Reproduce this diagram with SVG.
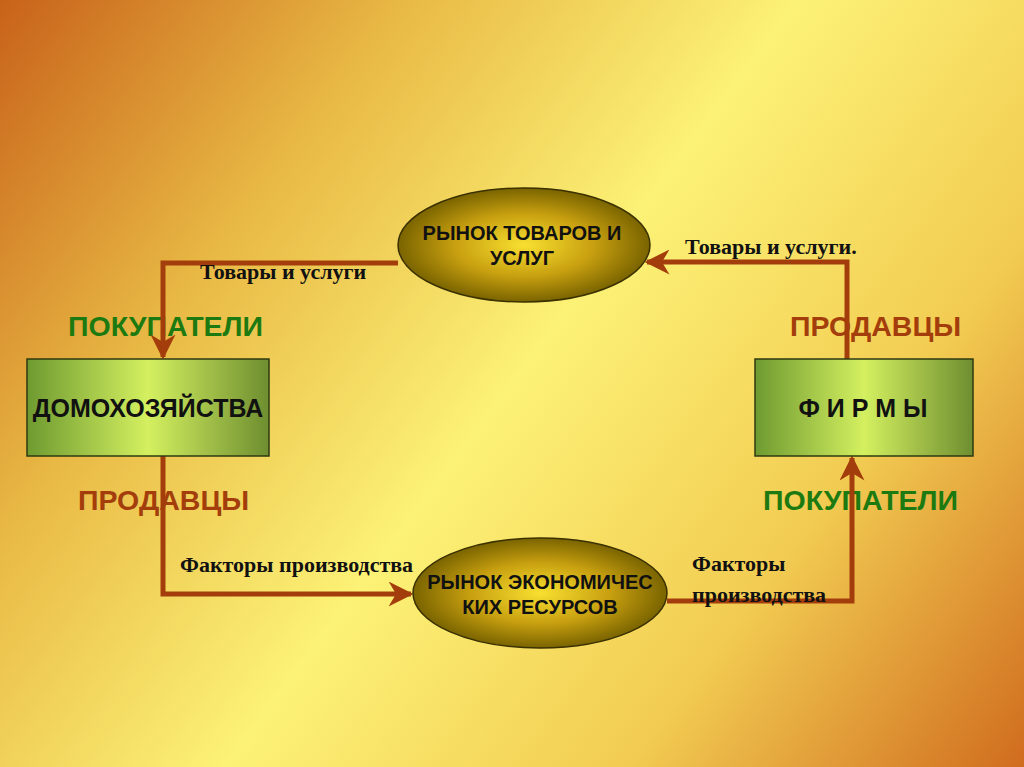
<svg xmlns="http://www.w3.org/2000/svg" width="1024" height="767" viewBox="0 0 1024 767">
<defs>
<linearGradient id="bg" x1="0" y1="0" x2="1024" y2="767" gradientUnits="userSpaceOnUse">
<stop offset="0" stop-color="#c8621a"/>
<stop offset="0.25" stop-color="#e8b844"/>
<stop offset="0.5" stop-color="#fcf276"/>
<stop offset="0.75" stop-color="#f2cc52"/>
<stop offset="1" stop-color="#d06c1e"/>
</linearGradient>
<radialGradient id="ell" cx="0.5" cy="0.5" r="0.5">
<stop offset="0" stop-color="#f8e030"/>
<stop offset="0.55" stop-color="#c8a010"/>
<stop offset="1" stop-color="#7a6400"/>
</radialGradient>
<linearGradient id="box" x1="0" y1="0" x2="1" y2="0">
<stop offset="0" stop-color="#6e9a30"/>
<stop offset="0.5" stop-color="#d4f060"/>
<stop offset="1" stop-color="#6e8e30"/>
</linearGradient>
<marker id="ah" viewBox="0 0 10 10" refX="9" refY="5" markerWidth="5" markerHeight="5" orient="auto" markerUnits="strokeWidth">
<path d="M0,0 L10,5 L0,10 L3,5 Z" fill="#a33e0c"/>
</marker>
<style>
.conn{fill:none;stroke:#a33e0c;stroke-width:5;stroke-linejoin:miter}
.ser{font-family:"Liberation Serif",serif;font-weight:bold;font-size:22px;fill:#111}
.big{font-family:"Liberation Sans",Arial,sans-serif;font-weight:bold;font-size:28.5px}
.g{fill:#1d7a10}
.r{fill:#a33e0c}
.nt{font-family:"Liberation Sans",Arial,sans-serif;font-weight:bold;fill:#111;text-anchor:middle}
</style>
</defs>
<rect width="1024" height="767" fill="url(#bg)"/>

<g id="labels">
<text class="big g" x="68" y="336">ПОКУПАТЕЛИ</text>
<text class="big r" x="790" y="336">ПРОДАВЦЫ</text>
<text class="big r" x="78" y="510">ПРОДАВЦЫ</text>
<text class="big g" x="763" y="510">ПОКУПАТЕЛИ</text>
</g>

<g id="connectors">
<polyline class="conn" points="398,263 163,263 163,357" marker-end="url(#ah)"/>
<polyline class="conn" points="847,359 847,262 647,262" marker-end="url(#ah)"/>
<polyline class="conn" points="163,456 163,594 411,594" marker-end="url(#ah)"/>
<polyline class="conn" points="667,601 852,601 852,458" marker-end="url(#ah)"/>
</g>

<g id="flow-labels">
<text class="ser" x="200" y="279">Товары и услуги</text>
<text class="ser" x="685" y="254">Товары и услуги.</text>
<text class="ser" x="180" y="572">Факторы производства</text>
<text class="ser" x="692" y="571">Факторы</text>
<text class="ser" x="692" y="602">производства</text>
</g>

<g id="market-goods">
<ellipse cx="524" cy="245" rx="126" ry="57" fill="url(#ell)" stroke="#3a3000" stroke-width="1.5"/>
<text class="nt" x="522" y="240" font-size="20">РЫНОК ТОВАРОВ И</text>
<text class="nt" x="522" y="265" font-size="20">УСЛУГ</text>
</g>

<g id="market-resources">
<ellipse cx="540" cy="593" rx="127" ry="55" fill="url(#ell)" stroke="#3a3000" stroke-width="1.5"/>
<text class="nt" x="540" y="589" font-size="20">РЫНОК ЭКОНОМИЧЕС</text>
<text class="nt" x="540" y="614" font-size="20">КИХ РЕСУРСОВ</text>
</g>

<g id="households">
<rect x="27" y="359" width="242" height="97" fill="url(#box)" stroke="#2e3a10" stroke-width="1.5"/>
<text class="nt" x="148" y="417" font-size="25">ДОМОХОЗЯЙСТВА</text>
</g>

<g id="firms">
<rect x="755" y="359" width="218" height="97" fill="url(#box)" stroke="#2e3a10" stroke-width="1.5"/>
<text class="nt" x="863" y="417" font-size="25">Ф И Р М Ы</text>
</g>
</svg>
